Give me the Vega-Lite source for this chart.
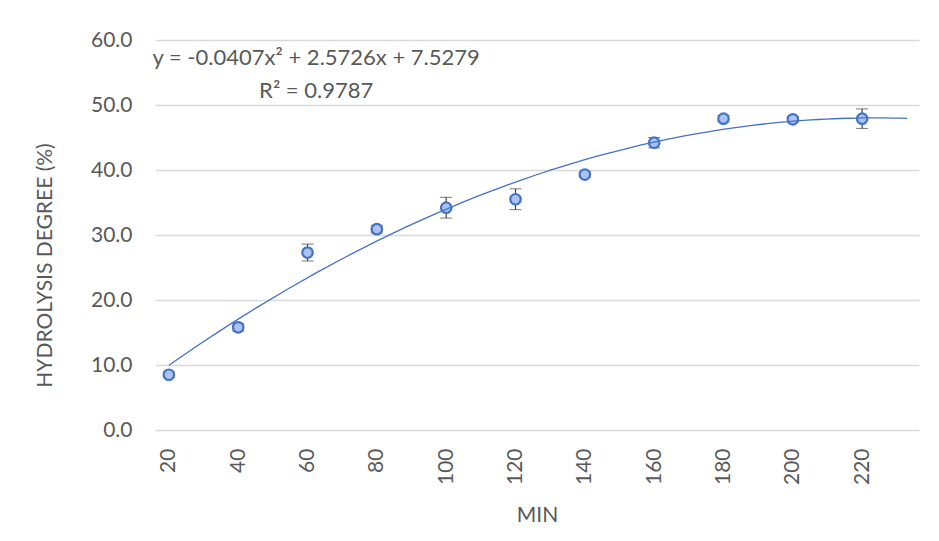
{
  "$schema": "https://vega.github.io/schema/vega-lite/v6.json",
  "autosize": "none",
  "width": 764,
  "height": 390,
  "padding": {"left": 155, "top": 40, "right": 20, "bottom": 111},
  "background": "white",
  "config": {
    "font": "Lato",
    "view": {"stroke": null},
    "axis": {"labelColor": "#595959", "titleColor": "#595959", "labelFont": "Lato", "titleFont": "Lato", "titleFontWeight": "normal"}
  },
  "datasets": {
    "pts": [
      {"min": 20, "hd": 8.5, "lo": 8.1, "hi": 8.9},
      {"min": 40, "hd": 15.8, "lo": 15.2, "hi": 16.4},
      {"min": 60, "hd": 27.3, "lo": 26.0, "hi": 28.6},
      {"min": 80, "hd": 30.9, "lo": 30.3, "hi": 31.5},
      {"min": 100, "hd": 34.2, "lo": 32.6, "hi": 35.8},
      {"min": 120, "hd": 35.5, "lo": 33.9, "hi": 37.1},
      {"min": 140, "hd": 39.3, "lo": 38.9, "hi": 39.7},
      {"min": 160, "hd": 44.2, "lo": 43.4, "hi": 45.0},
      {"min": 180, "hd": 47.9, "lo": 47.4, "hi": 48.4},
      {"min": 200, "hd": 47.8, "lo": 47.4, "hi": 48.2},
      {"min": 220, "hd": 47.9, "lo": 46.4, "hi": 49.4}
    ],
    "labels": [
      {"min": 62.5, "hd": 57.2, "txt": "y = -0.0407x² + 2.5726x + 7.5279"},
      {"min": 62.5, "hd": 52.2, "txt": "R² = 0.9787"}
    ]
  },
  "encoding": {
    "x": {
      "field": "min", "type": "quantitative",
      "scale": {"domain": [16, 236.4], "nice": false, "zero": false},
      "axis": {
        "values": [20, 40, 60, 80, 100, 120, 140, 160, 180, 200, 220],
        "labelAngle": -90, "labelAlign": "right", "labelBaseline": "middle",
        "labelPadding": 18, "labelFontSize": 21, "domain": false, "ticks": false, "grid": false,
        "title": "MIN", "titleFontSize": 21, "titlePadding": 20
      }
    },
    "y": {
      "field": "hd", "type": "quantitative",
      "scale": {"domain": [0, 60], "nice": false},
      "axis": {
        "values": [0, 10, 20, 30, 40, 50, 60], "format": ".1f",
        "labelFontSize": 21, "labelPadding": 23, "domain": false, "ticks": false,
        "grid": true, "gridColor": "#d9d9d9", "gridWidth": 1.3,
        "title": "HYDROLYSIS DEGREE (%)", "titleFontSize": 21, "titleAngle": -90,
        "titleX": -110, "titleY": 225, "titleBaseline": "middle", "titleAlign": "center"
      }
    }
  },
  "layer": [
    {
      "data": {"name": "pts"},
      "mark": {"type": "errorbar", "ticks": {"size": 12, "color": "#404040"}, "rule": {"color": "#404040", "strokeWidth": 1.2}},
      "encoding": {
        "y": {"field": "lo", "type": "quantitative"},
        "y2": {"field": "hi"}
      }
    },
    {
      "data": {"name": "pts"},
      "mark": {"type": "point", "filled": true, "fill": "#a9c3f2", "stroke": "#4472c4", "strokeWidth": 2.2, "size": 110, "opacity": 1}
    },
    {
      "data": {"name": "pts"},
      "transform": [
        {"regression": "hd", "on": "min", "method": "poly", "order": 2, "extent": [20, 233]}
      ],
      "mark": {"type": "line", "color": "#4472c4", "strokeWidth": 1.3}
    },
    {
      "data": {"name": "labels"},
      "mark": {"type": "text", "fontSize": 22, "color": "#595959", "align": "center", "baseline": "middle"},
      "encoding": {"text": {"field": "txt"}}
    }
  ]
}
